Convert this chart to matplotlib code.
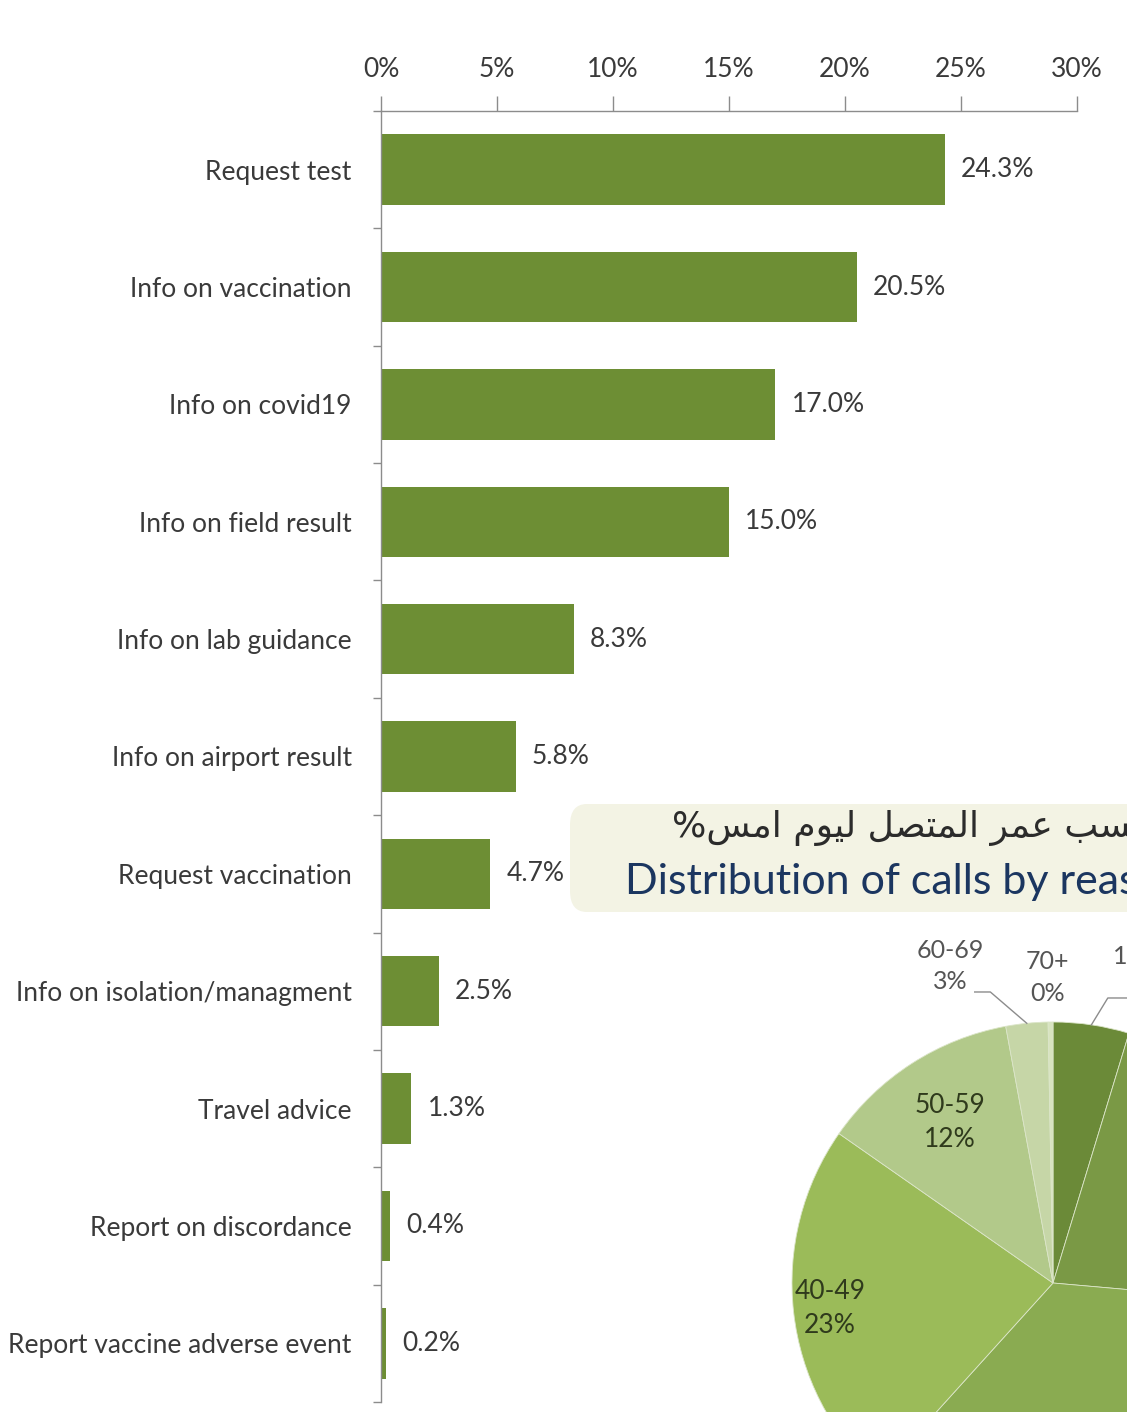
import matplotlib.pyplot as plt
from matplotlib.patches import FancyBboxPatch
import numpy as np

# calls by reason (bar chart)
reasons = ['Request test', 'Info on vaccination', 'Info on covid19', 'Info on field result',
           'Info on lab guidance', 'Info on airport result', 'Request vaccination',
           'Info on isolation/managment', 'Travel advice', 'Report on discordance',
           'Report vaccine adverse event']
shares = [24.3, 20.5, 17.0, 15.0, 8.3, 5.8, 4.7, 2.5, 1.3, 0.4, 0.2]
x_ticks = [0, 5, 10, 15, 20, 25, 30]

# calls by caller age (pie, cropped by the screenshot)
age_groups = ['10-19', '20-29', '30-39', '40-49', '50-59', '60-69', '70+']
age_shares = [4.7, 21.7, 35.3, 23.0, 12.4, 2.6, 0.3]
age_pct = ['5%', '22%', '35%', '23%', '12%', '3%', '0%']
age_colors = ['#6b8a38', '#7a9945', '#8aab51', '#9bbb59', '#b2c98a', '#c6d6a7', '#d8e4c0']

title_ar = 'توزيع المكالمات حسب عمر المتصل ليوم امس%'
title_en = 'Distribution of calls by reason'

W, H = 1127, 1412
font = ['Lato', 'DejaVu Sans']
grey = '#8c8c8c'
txt = '#3a3a3a'

# simple arabic shaping: (isolated, final, initial, medial)
forms = {
    'ا': ('\ufe8d', '\ufe8e', None, None),
    'ب': ('\ufe8f', '\ufe90', '\ufe91', '\ufe92'),
    'ت': ('\ufe95', '\ufe96', '\ufe97', '\ufe98'),
    'ح': ('\ufea1', '\ufea2', '\ufea3', '\ufea4'),
    'ر': ('\ufead', '\ufeae', None, None),
    'ز': ('\ufeaf', '\ufeb0', None, None),
    'س': ('\ufeb1', '\ufeb2', '\ufeb3', '\ufeb4'),
    'ص': ('\ufeb9', '\ufeba', '\ufebb', '\ufebc'),
    'ع': ('\ufec9', '\ufeca', '\ufecb', '\ufecc'),
    'ك': ('\ufed9', '\ufeda', '\ufedb', '\ufedc'),
    'ل': ('\ufedd', '\ufede', '\ufedf', '\ufee0'),
    'م': ('\ufee1', '\ufee2', '\ufee3', '\ufee4'),
    'و': ('\ufeed', '\ufeee', None, None),
    'ي': ('\ufef1', '\ufef2', '\ufef3', '\ufef4'),
}


def shape(text):
    out = []
    for i, ch in enumerate(text):
        if ch not in forms:
            out.append(ch)
            continue
        prev = text[i - 1] if i > 0 else ''
        nxt = text[i + 1] if i + 1 < len(text) else ''
        join_prev = prev in forms and forms[prev][2] is not None
        join_next = forms[ch][2] is not None and nxt in forms
        iso, fin, ini, med = forms[ch]
        if join_prev and join_next:
            out.append(med)
        elif join_prev:
            out.append(fin)
        elif join_next:
            out.append(ini)
        else:
            out.append(iso)
    return ''.join(reversed(out))


fig = plt.figure(figsize=(W / 100, H / 100), dpi=100)
fig.patch.set_facecolor('white')

# ---- bar chart ----
ax = fig.add_axes([381 / W, 1 - 1402 / H, (1077 - 381) / W, (1402 - 111) / H])
y = np.arange(len(reasons))
ax.barh(y, shares, height=0.6, color='#6d8e34')
for i, v in enumerate(shares):
    ax.text(v + 0.7, i, f'{v:.1f}%', va='center', ha='left', fontsize=19,
            family=font, color=txt)

ax.set_xlim(0, 30)
ax.set_ylim(len(reasons) - 0.5, -0.5)
ax.xaxis.tick_top()
ax.set_xticks(x_ticks)
ax.set_xticklabels([f'{t}%' for t in x_ticks], fontsize=19, family=font, color=txt)
ax.tick_params(axis='x', length=11, width=1, color=grey, pad=10)

ax.set_yticks(y)
ax.set_yticklabels(reasons, fontsize=19, family=font, color=txt)
ax.set_yticks(np.arange(len(reasons) + 1) - 0.5, minor=True)
ax.tick_params(axis='y', which='major', length=0, pad=21)
ax.tick_params(axis='y', which='minor', length=6, width=1, color=grey)

for s in ['right', 'bottom']:
    ax.spines[s].set_visible(False)
for s in ['top', 'left']:
    ax.spines[s].set_color(grey)
    ax.spines[s].set_linewidth(1)

# ---- title box of the second chart ----
box = FancyBboxPatch((570 / W, 1 - 912 / H), 700 / W, 108 / H,
                     boxstyle='round,pad=0,rounding_size=0.015',
                     transform=fig.transFigure, facecolor='#f3f3e4', edgecolor='none')
fig.add_artist(box)
fig.text(672 / W, 1 - 828 / H, shape(title_ar), ha='left', va='center', fontsize=26,
         family='DejaVu Sans', color='#2b2b2b')
fig.text(625 / W, 1 - 882 / H, title_en, ha='left', va='center', fontsize=31,
         family='Lato', color='#1b3660')

# ---- pie chart (cropped) ----
r_px = 261
cx, cy = 1053, 1283
pax = fig.add_axes([(cx - r_px) / W, 1 - (cy + r_px) / H, 2 * r_px / W, 2 * r_px / H])
wedges, _ = pax.pie(age_shares, colors=age_colors, startangle=90, counterclock=False,
                    radius=1, wedgeprops=dict(edgecolor='#dbe5c8', linewidth=0.6))
pax.set_xlim(-1, 1)
pax.set_ylim(-1, 1)
pax.set_aspect('equal')
pax.axis('off')

inside_r = {3: 0.86, 4: 0.73}
for i, w in enumerate(wedges):
    mid = np.deg2rad((w.theta1 + w.theta2) / 2)
    if i in inside_r:
        r = inside_r[i]
        pax.text(r * np.cos(mid), r * np.sin(mid), f'{age_groups[i]}\n{age_pct[i]}',
                 ha='center', va='center', fontsize=19, family=font,
                 color='#2f3a1c', linespacing=1.45)


def edge(i):
    w = wedges[i]
    mid = np.deg2rad((w.theta1 + w.theta2) / 2)
    return np.cos(mid), np.sin(mid)


# outside labels with leader lines
ex, ey = edge(5)
pax.plot([-0.30, -0.24, ex], [1.115, 1.115, ey], color=grey, lw=1, clip_on=False)
pax.text(-0.395, 1.215, f'{age_groups[5]}\n{age_pct[5]}', ha='center', va='center',
         fontsize=18, family=font, color='#555555', linespacing=1.45)
pax.text(-0.02, 1.17, f'{age_groups[6]}\n{age_pct[6]}', ha='center', va='center',
         fontsize=18, family=font, color='#555555', linespacing=1.45)
ex, ey = edge(0)
pax.plot([ex, 0.21, 0.32], [ey, 1.092, 1.092], color=grey, lw=1, clip_on=False)
pax.text(0.23, 1.19, f'{age_groups[0]}\n{age_pct[0]}', ha='left', va='center',
         multialignment='center', fontsize=18, family=font, color='#555555',
         linespacing=1.45)

fig.savefig('out.png', dpi=100)
